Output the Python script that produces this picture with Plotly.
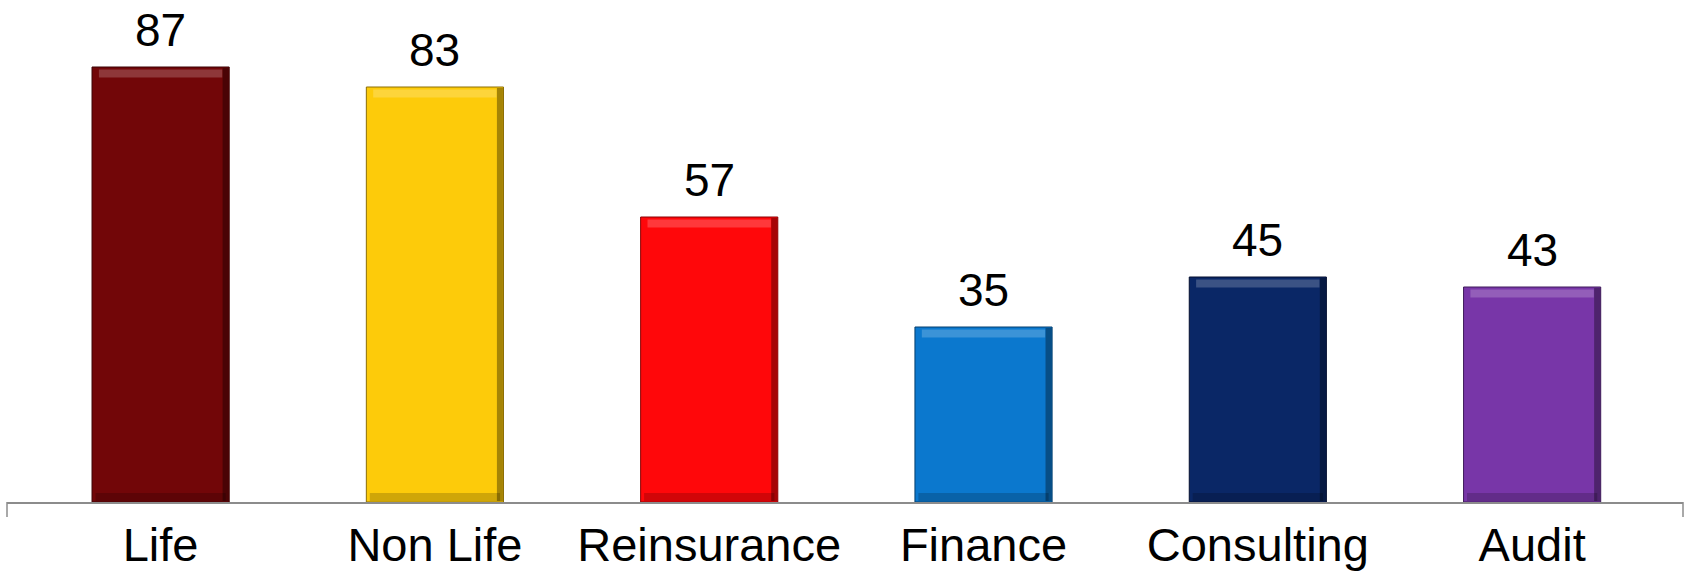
import plotly.graph_objects as go

categories = ["Life", "Non Life", "Reinsurance", "Finance", "Consulting", "Audit"]
values = [87, 83, 57, 35, 45, 43]
bar_colors = ["#720608", "#FDCB0A", "#FF070A", "#0B78CE", "#0A2766", "#7836A8"]
edge_colors = ["#3A0204", "#8C6E05", "#8A0204", "#053F6E", "#040F2E", "#3E1A5A"]

FONT = "Liberation Sans, Arial, sans-serif"
BAR_W = 0.5
n = len(categories)

fig = go.Figure()

# main bars
fig.add_trace(go.Bar(
    x=categories, y=values, width=BAR_W,
    marker=dict(color=bar_colors, line=dict(color=edge_colors, width=1)),
    hoverinfo="x+y",
))

# bevel: light band along the top of each bar
band = 1.6
fig.add_trace(go.Bar(
    x=categories, y=[band] * n, base=[v - band - 0.5 for v in values],
    width=BAR_W * 0.9,
    marker=dict(color="rgba(255,255,255,0.2)", line=dict(width=0)),
    hoverinfo="skip",
))
# bevel: dark strip along the right side
fig.add_trace(go.Bar(
    x=categories, y=[v - 0.4 for v in values], base=[0.2] * n,
    width=0.022, offset=BAR_W / 2 - 0.024,
    marker=dict(color="rgba(0,0,0,0.35)", line=dict(width=0)),
    hoverinfo="skip",
))
# bevel: dark band along the bottom
fig.add_trace(go.Bar(
    x=categories, y=[band] * n, base=[0.2] * n,
    width=BAR_W * 0.95,
    marker=dict(color="rgba(0,0,0,0.18)", line=dict(width=0)),
    hoverinfo="skip",
))

# value labels above the bars
for c, v in zip(categories, values):
    fig.add_annotation(
        x=c, y=v, text=str(v), showarrow=False,
        yanchor="bottom", yshift=9,
        font=dict(family=FONT, size=46, color="#000000"),
    )

# small end marks on the category axis
for xp in (0, 1):
    fig.add_shape(type="line", xref="paper", yref="paper",
                  x0=xp, x1=xp, y0=0, y1=-0.03,
                  line=dict(color="#8c8c8c", width=1.5))

fig.update_layout(
    width=1689, height=571,
    margin=dict(l=7, r=6, t=0, b=69),
    plot_bgcolor="#ffffff",
    paper_bgcolor="#ffffff",
    showlegend=False,
    barmode="overlay",
    xaxis=dict(
        range=[-0.56, 5.55],
        showline=True, linecolor="#8c8c8c", linewidth=1.5,
        showgrid=False, zeroline=False, ticks="",
        tickfont=dict(family=FONT, size=47, color="#000000"),
        ticklabelstandoff=1,
        automargin=False,
    ),
    yaxis=dict(
        range=[0, 100.4],
        visible=False, showgrid=False, zeroline=False,
        automargin=False,
    ),
)

fig.write_html("out.html")
